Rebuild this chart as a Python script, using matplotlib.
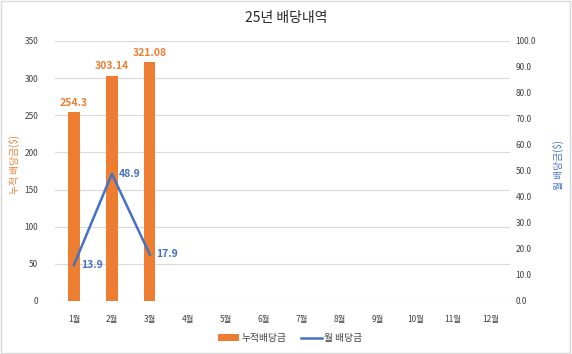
import matplotlib.pyplot as plt
import numpy as np
from matplotlib.patches import Rectangle

plt.rcParams['font.family'] = ['Noto Sans CJK KR', 'DejaVu Sans']

months = ['1월', '2월', '3월', '4월', '5월', '6월', '7월', '8월', '9월', '10월', '11월', '12월']
cum_div = [254.3, 303.14, 321.08]
month_div = [13.9, 48.9, 17.9]

orange = '#ED7D31'
blue = '#4472C4'
tick_c = '#404040'

fig = plt.figure(figsize=(5.72, 3.54), dpi=100)
ax = fig.add_axes([55 / 572, 1 - 301 / 354, 455 / 572, 260 / 354])
ax2 = ax.twinx()

x = np.arange(len(months))
xb = x[:len(cum_div)]

bars = ax.bar(xb, cum_div, width=0.3, color=orange, label='누적배당금', zorder=2)
for xi, v in zip(xb, cum_div):
    ax.text(xi, v + 6, f'{v:g}', ha='center', va='bottom', color=orange,
            fontsize=7.5, fontweight='bold')

line, = ax2.plot(xb, month_div, color=blue, lw=1.8, label='월 배당금', zorder=3)
for xi, v in zip(xb, month_div):
    ax2.text(xi + 0.18, v, f'{v:.1f}', ha='left', va='center', color=blue,
             fontsize=7.5, fontweight='bold')

ax.set_xlim(-0.5, len(months) - 0.5)
ax.set_ylim(0, 350)
ax.set_yticks(np.arange(0, 351, 50))
ax2.set_ylim(0, 100)
ax2.set_yticks(np.arange(0, 101, 10))
ax2.set_yticklabels([f'{v:.1f}' for v in np.arange(0, 101, 10)])
ax.set_xticks(x)
ax.set_xticklabels(months)

ax.grid(axis='y', color='#D9D9D9', lw=0.8, zorder=0)
ax.set_axisbelow(True)
for a in (ax, ax2):
    for s in a.spines.values():
        s.set_visible(False)
    a.tick_params(length=0, colors=tick_c, labelsize=6)
ax.tick_params(axis='y', pad=12)
ax2.tick_params(axis='y', pad=4)
ax.tick_params(axis='x', pad=10)
ax.axhline(0, color='#D9D9D9', lw=0.8, zorder=1)

ax.set_ylabel('누적 배당금($)', color=orange, fontsize=7)
ax.yaxis.set_label_coords((20 - 55) / 455, (301 - 165) / 260)
ax2.set_ylabel('월 배당금($)', color=blue, fontsize=7, rotation=90)
ax2.yaxis.set_label_coords((553 - 55) / 455, (301 - 165) / 260)

fig.text(0.5, 1 - 18 / 354, '25년 배당내역', ha='center', va='center',
         fontsize=10, color='#262626')

fig.legend([bars, line], ['누적배당금', '월 배당금'], loc='center',
           bbox_to_anchor=(290 / 572, 1 - 338 / 354), ncol=2, frameon=False,
           fontsize=7, handlelength=2.2, handleheight=0.7, columnspacing=1.5,
           handletextpad=0.2, labelcolor=tick_c)

fig.patches.append(Rectangle((0.002, 0.003), 0.995, 0.994, transform=fig.transFigure,
                             fill=False, edgecolor='#D9D9D9', lw=1))

fig.savefig('out.png', dpi=100)
